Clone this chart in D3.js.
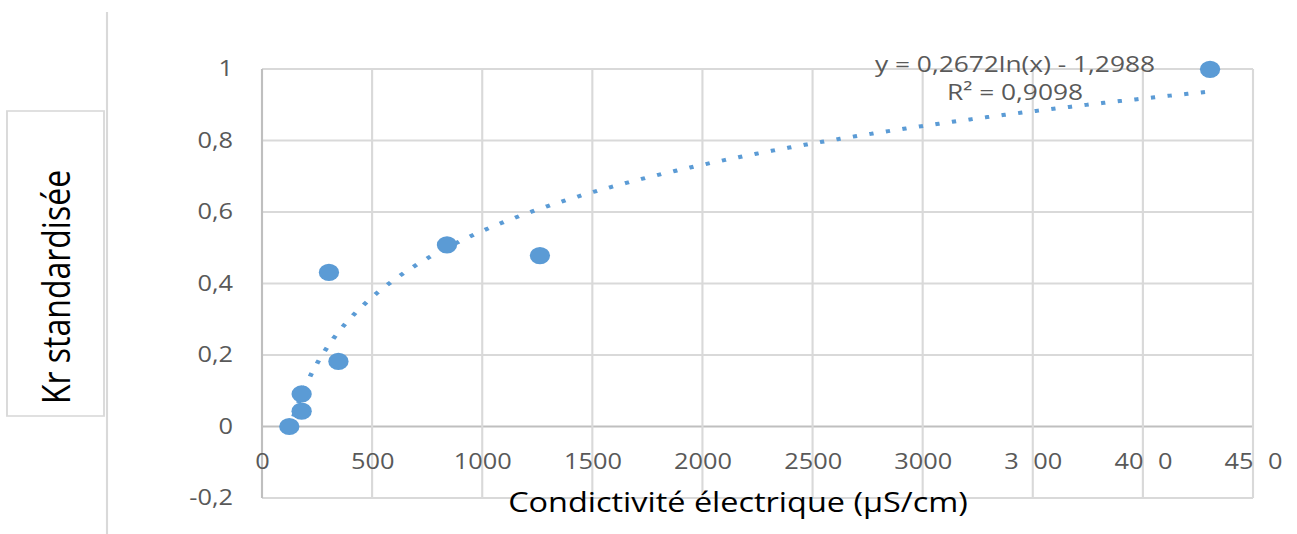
<!DOCTYPE html>
<html>
<head>
<meta charset="utf-8">
<script src="https://cdn.jsdelivr.net/npm/d3@7"></script>
<style>
  body { margin: 0; background: #fff; }
  svg { display: block; font-family: "Open Sans", sans-serif; }
</style>
</head>
<body>
<div id="graph"></div>
<script>
// values
const condX = [124, 180, 180, 347, 304, 840, 1262, 4305];
const krY = [0.0, 0.043, 0.091, 0.182, 0.431, 0.508, 0.478, 0.999];

const xTicks = [0, 500, 1000, 1500, 2000, 2500, 3000, 3500, 4000, 4500];
const xTickLabels = ["0", "500", "1000", "1500", "2000", "2500", "3000", "3\u200700", "40\u20070", "45\u20070"];
const yTicks = [-0.2, 0, 0.2, 0.4, 0.6, 0.8, 1];
const yTickLabels = ["-0,2", "0", "0,2", "0,4", "0,6", "0,8", "1"];

// trend line printed on the chart: y = a ln(x) + b
const trendCoef = [0.2672, -1.2988];
const trendText = ["y = 0,2672ln(x) - 1,2988", "R² = 0,9098"];

// the picture is stretched sideways, draw everything in a squeezed frame
const S = 1.18;
const W = 1297, H = 534;

const svg = d3.select("#graph")
  .append("svg")
    .attr("width", W)
    .attr("height", H);

const g = svg.append("g")
    .attr("transform", `scale(${S},1)`);

const x = d3.scaleLinear()
  .domain([0, 4500])
  .range([262 / S, 1253 / S]);

const y = d3.scaleLinear()
  .domain([-0.2, 1])
  .range([498, 69]);

// frame around the axis title and the left rule
g.append("line")
  .attr("x1", 107 / S).attr("x2", 107 / S)
  .attr("y1", 12).attr("y2", H)
  .attr("stroke", "#d9d9d9")
  .attr("stroke-width", 1.8);

g.append("rect")
  .attr("x", 7 / S).attr("y", 111)
  .attr("width", 97 / S).attr("height", 305)
  .attr("fill", "#fff")
  .attr("stroke", "#d9d9d9")
  .attr("stroke-width", 1.6);

// grid
g.append("g")
  .selectAll("line")
  .data(yTicks)
  .join("line")
    .attr("x1", x(0)).attr("x2", x(4500))
    .attr("y1", d => y(d)).attr("y2", d => y(d))
    .attr("stroke", d => d === 0 ? "#bfbfbf" : "#d9d9d9")
    .attr("stroke-width", 2);

g.append("g")
  .selectAll("line")
  .data(xTicks)
  .join("line")
    .attr("x1", d => x(d)).attr("x2", d => x(d))
    .attr("y1", y(1)).attr("y2", y(-0.2))
    .attr("stroke", d => d === 0 ? "#bfbfbf" : "#d9d9d9")
    .attr("stroke-width", 1.8);

// axes (labels only)
const xAxis = g.append("g")
  .attr("transform", `translate(0,${y(0)})`)
  .call(d3.axisBottom(x)
    .tickValues(xTicks)
    .tickSize(0)
    .tickPadding(27)
    .tickFormat((d, i) => xTickLabels[i]));

const yAxis = g.append("g")
  .attr("transform", `translate(${x(0)},0)`)
  .call(d3.axisLeft(y)
    .tickValues(yTicks)
    .tickSize(0)
    .tickPadding(29 / S)
    .tickFormat((d, i) => yTickLabels[i]));

[xAxis, yAxis].forEach(a => {
  a.select(".domain").remove();
  a.selectAll("text")
    .attr("fill", "#595959")
    .style("font-family", "'Open Sans', sans-serif")
    .style("font-size", "21.5px")
    .style("white-space", "pre");
});

// trend line, dotted, from smallest to largest x
const xs = d3.extent(condX);
const trendPts = d3.range(xs[0], xs[1], 10).concat([xs[1]])
  .map(v => [v, trendCoef[0] * Math.log(v) + trendCoef[1]]);

g.append("path")
  .datum(trendPts)
  .attr("fill", "none")
  .attr("stroke", "#5b9bd5")
  .attr("stroke-width", 4)
  .attr("stroke-dasharray", "3.6 10.6")
  .attr("d", d3.line()
    .x(d => x(d[0]))
    .y(d => y(d[1])));

// points
g.append("g")
  .selectAll("circle")
  .data(condX.map((v, i) => [v, krY[i]]))
  .join("circle")
    .attr("cx", d => x(d[0]))
    .attr("cy", d => y(d[1]))
    .attr("r", 8.6)
    .attr("fill", "#5b9bd5");

// equation label
g.append("g")
  .selectAll("text")
  .data(trendText)
  .join("text")
    .attr("x", 1015 / S)
    .attr("y", (d, i) => 72 + i * 28)
    .attr("text-anchor", "middle")
    .attr("fill", "#595959")
    .style("font-size", "22.3px")
    .text(d => d);

// axis titles
g.append("text")
  .attr("x", 738 / S)
  .attr("y", 512)
  .attr("text-anchor", "middle")
  .attr("fill", "#000")
  .style("font-size", "27.5px")
  .text("Condictivité électrique (µS/cm)");

g.append("text")
  .attr("transform", `translate(${70 / S},287) rotate(-90)`)
  .attr("text-anchor", "middle")
  .attr("fill", "#000")
  .style("font-size", "32px")
  .text("Kr standardisée");
</script>
</body>
</html>
